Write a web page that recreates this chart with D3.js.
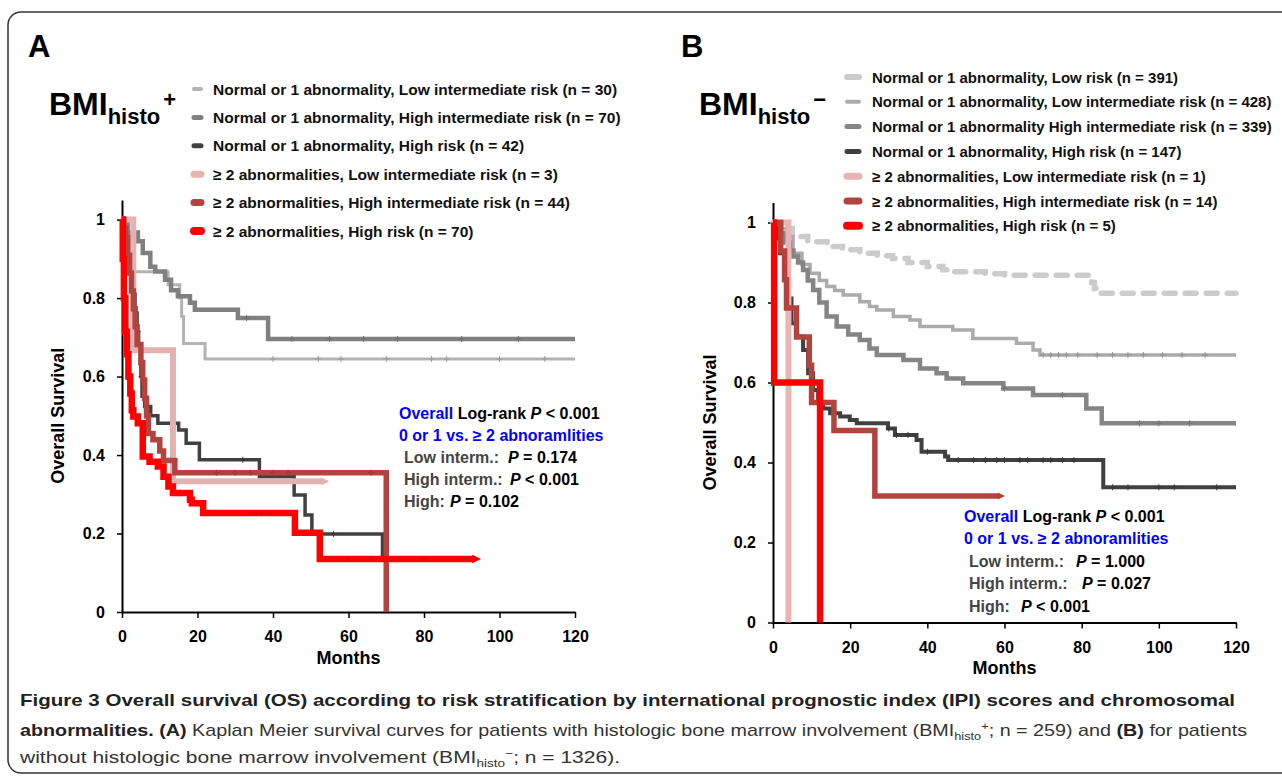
<!DOCTYPE html>
<html>
<head>
<meta charset="utf-8">
<script src="https://cdn.jsdelivr.net/npm/d3@7"></script>
<style>
body{margin:0;background:#fff;}
svg text{font-family:"Liberation Sans",Arial,Helvetica,sans-serif;}
</style>
</head>
<body>
<script>
// ---- shared ticks ----
var monthTicks=[0,20,40,60,80,100,120];
var survTicks=[0,0.2,0.4,0.6,0.8,1];

// ---- panel A: BMI histo + ----  [month, survival] steps
var labelsA=[
  "Normal or 1 abnormality, Low intermediate risk (n = 30)",
  "Normal or 1 abnormality, High intermediate risk (n = 70)",
  "Normal or 1 abnormality, High risk (n = 42)",
  "\u2265 2 abnormalities, Low intermediate risk (n = 3)",
  "\u2265 2 abnormalities, High intermediate risk (n = 44)",
  "\u2265 2 abnormalities, High risk (n = 70)"];
var a1=[[0,1],[1,0.967],[2.5,0.867],[12.2,0.834],[15.3,0.8],[15.8,0.753],[16.3,0.684],[22,0.645],[120,0.645]];
var a2=[[0,1],[1.5,0.967],[4.2,0.945],[5.5,0.915],[7.5,0.88],[8.8,0.868],[11.4,0.847],[13,0.82],[14.8,0.805],[18,0.788],[19.3,0.77],[30.7,0.749],[38.7,0.696],[120,0.696]];
var a3=[[0,1],[0.5,0.952],[1.5,0.905],[2.5,0.857],[3,0.81],[3.5,0.762],[4,0.714],[4.4,0.667],[5,0.6],[5.3,0.55],[6,0.524],[7.6,0.5],[9.5,0.481],[15,0.464],[17,0.43],[20.5,0.388],[36.4,0.345],[45.6,0.298],[48.5,0.247],[50.3,0.199],[69,0.135],[83,0.135]];
var a4=[[0,1],[3,0.667],[13.5,0.333],[53,0.333]];
var a5=[[0,1],[0.5,0.977],[1,0.955],[1.5,0.909],[2,0.864],[2.5,0.818],[3,0.773],[3.5,0.727],[4,0.682],[5,0.636],[5.5,0.591],[6,0.545],[6.5,0.5],[7,0.455],[8.2,0.439],[10,0.41],[11,0.386],[14,0.355],[70,0]];
var a6=[[0,1],[0.2,0.9],[0.5,0.8],[0.9,0.714],[1.3,0.657],[1.7,0.6],[2.2,0.557],[2.6,0.514],[3,0.498],[4.2,0.481],[5.5,0.396],[7.3,0.383],[9.5,0.371],[11,0.345],[12.3,0.32],[13.5,0.303],[18,0.286],[18.5,0.277],[21.5,0.252],[45.8,0.202],[52.4,0.135],[93,0.135]];
var censA=[[40,52,58,70,82,86,100,112],[33,45,55,64,73,90,105],[3.2,4.1,5.2,32,56,77,83],[],[25,30,34,40,44,66],[34,35.5,37,39,60,66,80]];
var endArrowA=[false,false,false,true,false,true];

// ---- panel B: BMI histo - ----
var labelsB=[
  "Normal or 1 abnormality, Low risk (n = 391)",
  "Normal or 1 abnormality, Low intermediate risk (n = 428)",
  "Normal or 1 abnormality High intermediate risk (n = 339)",
  "Normal or 1 abnormality, High risk (n = 147)",
  "\u2265 2 abnormalities, Low intermediate risk (n = 1)",
  "\u2265 2 abnormalities, High intermediate risk (n = 14)",
  "\u2265 2 abnormalities, High risk (n = 5)"];
var b1=[[0,1],[2,0.985],[5,0.965],[9,0.952],[14,0.94],[18,0.932],[22.5,0.923],[27,0.917],[31,0.91],[35,0.9],[40,0.89],[44,0.882],[47,0.877],[55,0.872],[60,0.868],[82,0.865],[82.6,0.85],[83.3,0.835],[84,0.823],[120,0.823]];
var b2=[[0,1],[1.5,0.985],[3.5,0.965],[5.2,0.923],[7.5,0.895],[9.6,0.873],[12,0.855],[13.9,0.84],[16,0.83],[18.2,0.819],[22.5,0.802],[25,0.79],[26.9,0.781],[31.2,0.765],[35.5,0.756],[38.1,0.74],[46.6,0.731],[51.8,0.71],[63.1,0.698],[67.4,0.681],[69.2,0.669],[120,0.669]];
var b3=[[0,1],[1.8,0.973],[3.2,0.95],[4.4,0.93],[5.3,0.915],[6.5,0.9],[7.8,0.881],[9,0.855],[10.4,0.831],[12,0.8],[13.9,0.765],[16.5,0.74],[19.5,0.72],[22.5,0.706],[25,0.685],[26.9,0.669],[33.8,0.656],[38.1,0.635],[42.4,0.623],[45,0.61],[49.3,0.598],[59.7,0.585],[67.4,0.569],[81.2,0.535],[85.2,0.498],[120,0.498]];
var b4=[[0,1],[0.8,0.96],[1.8,0.923],[3.1,0.873],[4,0.81],[4.8,0.748],[6.1,0.715],[7.8,0.681],[9.1,0.623],[10.4,0.581],[11.7,0.552],[13,0.535],[14.8,0.523],[17.4,0.515],[19.9,0.506],[21.7,0.498],[29.8,0.485],[31.6,0.469],[37.2,0.456],[38.5,0.427],[44.6,0.415],[45.4,0.406],[85.6,0.338],[120,0.338]];
var b5=[[0,1],[4,0]];
var b6=[[0,1],[2,0.929],[3,0.857],[3.5,0.786],[6.1,0.714],[9.4,0.643],[10,0.55],[15.8,0.48],[26.4,0.316],[58.4,0.316]];
var b7=[[0,1],[0.3,0.6],[12.2,0]];
var censB=[[],[70,72,74,76,79,84,88,92,96,101,106,112],[60,75,95,100,108],[30,32,35,40,48,52,55,58,60,64,66,70,72,75,78,88,92,100,104,115],[],[],[]];
var endArrowB=[false,false,false,false,false,true,false];

// ---- styles ----
var colorsA=["#b3b3b3","#808080","#404040","#e5b2b2","#b2433f","#ff0000"];
var widthsA=[3,4.5,3.5,6,5.5,6.5];
var swatchA=[4,5,5,7,7,8];
var colorsB=["#cccccc","#ababab","#858585","#404040","#e8b4b4","#b2433f","#ff0000"];
var widthsB=[5.5,3.5,4.5,4,6,5.5,6.5];
var swatchB=[6,4,5,5,7,7,8];
var dashB=["11,10",null,null,null,null,null,null];

var svg=d3.select("body").append("svg").attr("width",1282).attr("height",776);
var defs=svg.append("defs");

// outer frame
svg.append("rect").attr("x",8).attr("y",12).attr("width",1310).attr("height",761)
  .attr("rx",13).attr("fill","none").attr("stroke","#333").attr("stroke-width",1.5);

function survAt(steps,m){
  var s=steps[0][1];
  steps.forEach(function(p){ if(p[0]<=m) s=p[1]; });
  return s;
}
var fmt=function(d){ return (d===0||d===1)? String(d) : d.toFixed(1); };
var markerCount=0;

function drawPanel(p){
  var x=d3.scaleLinear().domain([0,120]).range(p.xr);
  var y=d3.scaleLinear().domain([0,1.05]).range(p.yr);
  var g=svg.append("g");

  // axes
  var gx=g.append("g").attr("transform","translate(0,"+y(0)+")")
    .call(d3.axisBottom(x).tickValues(monthTicks).tickSize(6).tickSizeOuter(0).tickPadding(13));
  var gy=g.append("g").attr("transform","translate("+x(0)+",0)")
    .call(d3.axisLeft(y).tickValues(survTicks).tickFormat(fmt).tickSize(5).tickSizeOuter(0).tickPadding(12));
  [gx,gy].forEach(function(a){
    a.select(".domain").attr("stroke","#000").attr("stroke-width",2);
    a.selectAll(".tick line").attr("stroke","#000").attr("stroke-width",1.5);
    a.selectAll(".tick text").attr("fill","#000").style("font-size","16px").style("font-weight","bold")
      .style("font-family","'Liberation Sans',Arial,sans-serif");
  });

  g.append("text").attr("x",(p.xr[0]+p.xr[1])/2).attr("y",y(0)+p.monthsDy)
    .attr("text-anchor","middle").style("font-size","18px").style("font-weight","bold").text("Months");
  g.append("text").attr("transform","translate("+p.ylabX+","+(y(0)+y(1))/2+") rotate(-90)")
    .attr("text-anchor","middle").style("font-size","18px").style("font-weight","bold").text("Overall Survival");

  // curves
  var line=d3.line().x(function(d){return x(d[0]);}).y(function(d){return y(d[1]);}).curve(d3.curveStepAfter);
  p.series.forEach(function(s,i){
    var path=g.append("path").datum(s).attr("d",line).attr("fill","none")
      .attr("stroke",p.colors[i]).attr("stroke-width",p.widths[i])
      .attr("stroke-linejoin","miter");
    if(p.dash && p.dash[i]) path.attr("stroke-dasharray",p.dash[i]).attr("stroke-linecap","round");
    if(p.arrows[i]){
      var id="arr"+(markerCount++);
      var ms=p.widths[i]*1.35;
      defs.append("marker").attr("id",id).attr("viewBox","0 0 10 10").attr("refX",1).attr("refY",5)
        .attr("markerUnits","userSpaceOnUse").attr("markerWidth",ms).attr("markerHeight",ms).attr("orient","auto")
        .append("path").attr("d","M0,0L10,5L0,10z").attr("fill",p.colors[i]);
      path.attr("marker-end","url(#"+id+")");
    }
    // censor marks
    g.selectAll(null).data(p.cens[i]).enter().append("path")
      .attr("d",function(m){ var cx=x(m), cy=y(survAt(s,m)); return "M"+(cx-3)+","+cy+"H"+(cx+3)+"M"+cx+","+(cy-3)+"V"+(cy+3); })
      .attr("stroke",d3.color(p.colors[i]).darker(0.4)).attr("stroke-width",1);
  });

  // legend
  p.labels.forEach(function(t,i){
    var ly=p.leg.y0+i*p.leg.dy;
    g.append("line").attr("x1",p.leg.x1).attr("x2",p.leg.x2).attr("y1",ly).attr("y2",ly)
      .attr("stroke",p.colors[i]).attr("stroke-width",p.swatch[i]).attr("stroke-linecap","round");
    g.append("text").attr("x",p.leg.tx).attr("y",ly+5.5).style("font-size",p.leg.fs+"px")
      .style("font-weight","bold").attr("fill","#111").text(t);
  });

  // panel letter and title
  g.append("text").attr("x",p.letterX).attr("y",57).style("font-size","31px").style("font-weight","bold").text(p.letter);
  var tt=g.append("text").attr("x",p.titleX).attr("y",115).style("font-weight","bold");
  tt.append("tspan").style("font-size","32px").text("BMI");
  tt.append("tspan").style("font-size","22px").attr("dy",9).text("histo");
  tt.append("tspan").style("font-size","22px").attr("dx",3).attr("dy",-17).text(p.sign);

  // statistics
  var st=p.stats;
  var t1=g.append("text").attr("x",st.x).attr("y",st.y0).style("font-size","16px").style("font-weight","bold");
  t1.append("tspan").attr("fill","#0000ff").text("Overall ");
  t1.append("tspan").attr("fill","#000").text("Log-rank ");
  t1.append("tspan").attr("fill","#000").style("font-style","italic").text("P");
  t1.append("tspan").attr("fill","#000").text(" < 0.001");
  g.append("text").attr("x",st.x).attr("y",st.y0+st.dy).style("font-size","16px").style("font-weight","bold")
    .attr("fill","#0000ff").text("0 or 1 vs. \u2265 2 abnoramlities");
  st.rows.forEach(function(r,i){
    var t=g.append("text").attr("y",st.y0+st.dy*(i+2)).style("font-size","16px").style("font-weight","bold");
    t.append("tspan").attr("x",st.x+5).attr("fill","#444").text(r[0]);
    t.append("tspan").attr("x",r[2]).attr("fill","#000").style("font-style","italic").text("P");
    t.append("tspan").attr("fill","#000").text(r[1]);
  });
}

drawPanel({
  xr:[122,575], yr:[612,200], series:[a1,a2,a3,a4,a5,a6], labels:labelsA, cens:censA, arrows:endArrowA,
  colors:colorsA, widths:widthsA, swatch:swatchA, monthsDy:52, ylabX:64,
  leg:{x1:194,x2:201,tx:213,y0:89,dy:28.4,fs:15.5},
  letter:"A", letterX:28, titleX:49, sign:"+",
  stats:{x:399,y0:419,dy:22.1,rows:[["Low interm.:"," = 0.174",508],["High interm.:"," < 0.001",510],["High:"," = 0.102",450]]}
});
drawPanel({
  xr:[773,1236], yr:[622.5,202.5], series:[b1,b2,b3,b4,b5,b6,b7], labels:labelsB, cens:censB, arrows:endArrowB,
  colors:colorsB, widths:widthsB, swatch:swatchB, dash:dashB, monthsDy:51, ylabX:716,
  leg:{x1:847,x2:859,tx:872,y0:77,dy:24.8,fs:15},
  letter:"B", letterX:681, titleX:699, sign:"\u2212",
  stats:{x:964,y0:521.5,dy:22.5,rows:[["Low interm.:"," = 1.000",1076],["High interm.:"," = 0.027",1082],["High:"," < 0.001",1021]]}
});

// caption
var cap=svg.append("g").style("font-size","17px").attr("fill","#333");
cap.append("text").attr("x",20).attr("y",706).style("font-weight","bold").attr("fill","#222")
  .attr("textLength",1215).attr("lengthAdjust","spacingAndGlyphs")
  .text("Figure 3 Overall survival (OS) according to risk stratification by international prognostic index (IPI) scores and chromosomal");
var c2=cap.append("text").attr("x",20).attr("y",736).attr("textLength",1227).attr("lengthAdjust","spacingAndGlyphs");
c2.append("tspan").style("font-weight","bold").attr("fill","#222").text("abnormalities. (A)");
c2.append("tspan").text(" Kaplan Meier survival curves for patients with histologic bone marrow involvement (BMI");
c2.append("tspan").style("font-size","11px").attr("dy",4).text("histo");
c2.append("tspan").style("font-size","11px").attr("dy",-10).text("+");
c2.append("tspan").attr("dy",6).text("; n = 259) and ");
c2.append("tspan").style("font-weight","bold").attr("fill","#222").text("(B)");
c2.append("tspan").text(" for patients");
var c3=cap.append("text").attr("x",20).attr("y",763).attr("textLength",600).attr("lengthAdjust","spacingAndGlyphs");
c3.append("tspan").text("without histologic bone marrow involvement (BMI");
c3.append("tspan").style("font-size","11px").attr("dy",4).text("histo");
c3.append("tspan").style("font-size","11px").attr("dy",-10).text("\u2212");
c3.append("tspan").attr("dy",6).text("; n = 1326).");
</script>
</body>
</html>
